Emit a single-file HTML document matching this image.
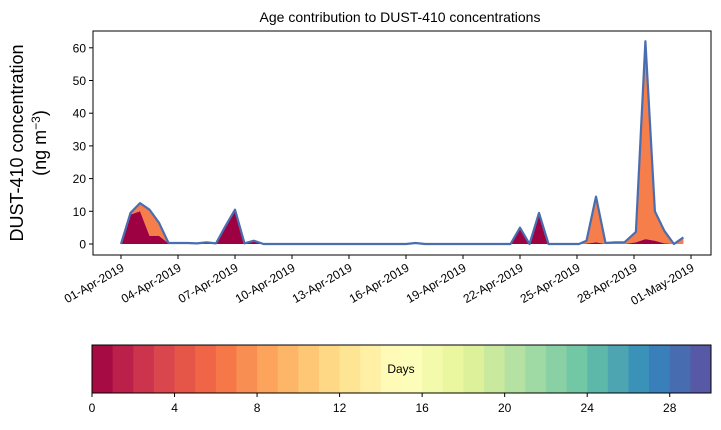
<!DOCTYPE html>
<html><head><meta charset="utf-8"><style>
body{margin:0;background:#fff;}
svg text{font-family:"Liberation Sans","DejaVu Sans",sans-serif;}
</style></head><body>
<svg id="c" width="721" height="425" xmlns="http://www.w3.org/2000/svg">
<text x="400" y="22" text-anchor="middle" font-size="14">Age contribution to DUST-410 concentrations</text>
<text transform="translate(23,143) rotate(-90)" text-anchor="middle" font-size="18">DUST-410 concentration</text>
<text transform="translate(46,143) rotate(-90)" text-anchor="middle" font-size="18">(ng m<tspan dy="-6" font-size="12">−3</tspan><tspan dy="6">)</tspan></text>
<g id="plot"></g>
<rect x="93" y="31" width="618" height="224" fill="none" stroke="#000" stroke-width="1"/>
<g id="cbar"></g>
</svg>
<script>
const days=[0,0.5,1,1.5,2,2.5,3,3.5,4,4.5,5,5.5,6,6.5,7,7.5,8,15,15.5,16,20,20.5,21,21.5,22,22.5,23,24.1,24.5,25,25.5,26,26.5,27.1,27.6,28.1,28.6,29.1,29.6];
const total=[0,9.5,12.5,10.5,6.5,0.3,0.3,0.3,0.2,0.5,0.2,5.5,10.5,0.2,1,0,0,0,0.3,0,0,0,5,0,9.5,0,0,0,1,14.5,0.3,0.5,0.5,3.7,62,10,4,0,2];
const young=[0,9,10,2.5,2.5,0.2,0.2,0.2,0.1,0.4,0.1,5.3,10,0.1,0.9,0,0,0,0.1,0,0,0,4.8,0,9.2,0,0,0,0.1,0.5,0,0,0,0.5,1.5,1,0.2,0,0];
const yTicks=[0,10,20,30,40,50,60];
const xTickDays=[0,3,6,9,12,15,18,21,24,27,30];
const xTickLabels=["01-Apr-2019","04-Apr-2019","07-Apr-2019","10-Apr-2019","13-Apr-2019","16-Apr-2019","19-Apr-2019","22-Apr-2019","25-Apr-2019","28-Apr-2019","01-May-2019"];
const cbTicks=[0,4,8,12,16,20,24,28];
const NS="http://www.w3.org/2000/svg";
const X=d=>121+d*19.0, Y=v=>244-v*3.27;
const plot=document.getElementById('plot');
function mk(t,a,p){const e=document.createElementNS(NS,t);for(const k in a)e.setAttribute(k,a[k]);(p||plot).appendChild(e);return e;}
function area(lo,hi){let s='';days.forEach((d,i)=>s+=(i?'L':'M')+X(d)+','+Y(hi[i]));for(let i=days.length-1;i>=0;i--)s+='L'+X(days[i])+','+Y(lo[i]);return s+'Z';}
const zero=days.map(()=>0);
const a1=mk('path',{d:area(young,total),fill:'#f67e4b'});

const a0=mk('path',{d:area(zero,young),fill:'#9e0142'});

let s='';days.forEach((d,i)=>s+=(i?'L':'M')+X(d)+','+Y(total[i]));
const ln=mk('path',{d:s,fill:'none',stroke:'#4a6db0','stroke-width':2.2,'stroke-linejoin':'round'});

yTicks.forEach(v=>{mk('line',{x1:89,x2:93,y1:Y(v),y2:Y(v),stroke:'#000'});
const t=mk('text',{x:86,y:Y(v)+4.5,'text-anchor':'end','font-size':12});t.textContent=v;
});
xTickDays.forEach((d,i)=>{mk('line',{x1:X(d),x2:X(d),y1:255,y2:259,stroke:'#000'});
const t=mk('text',{transform:`translate(${X(d)+4},${270}) rotate(-30)`,'text-anchor':'end','font-size':12});t.textContent=xTickLabels[i];
});
const anchors=['9e0142','d53e4f','f46d43','fdae61','fee08b','ffffbf','e6f598','abdda4','66c2a5','3288bd','5e4fa2'].map(h=>[0,2,4].map(i=>parseInt(h.substr(i,2),16)));
function spec(t){const p=t*10,i=Math.min(9,Math.floor(p)),f=p-i;return 'rgb('+anchors[i].map((c,k)=>Math.round(c+(anchors[i+1][k]-c)*f)).join(',')+')';}
const cb=document.getElementById('cbar');
const cx=d=>92+d*(619/30);
for(let k=0;k<30;k++){const r=mk('rect',{x:cx(k),y:345,width:619/30+0.5,height:48,fill:spec((k+0.5)/30)},cb);
}
mk('rect',{x:92,y:345,width:619,height:48,fill:'none',stroke:'#000'},cb);
cbTicks.forEach(v=>{mk('line',{x1:cx(v),x2:cx(v),y1:393,y2:397,stroke:'#000'},cb);
const t=mk('text',{x:cx(v),y:412,'text-anchor':'middle','font-size':12},cb);t.textContent=v;
});
const lb=mk('text',{x:401,y:373,'text-anchor':'middle','font-size':12},cb);lb.textContent='Days';

</script>
</body></html>
